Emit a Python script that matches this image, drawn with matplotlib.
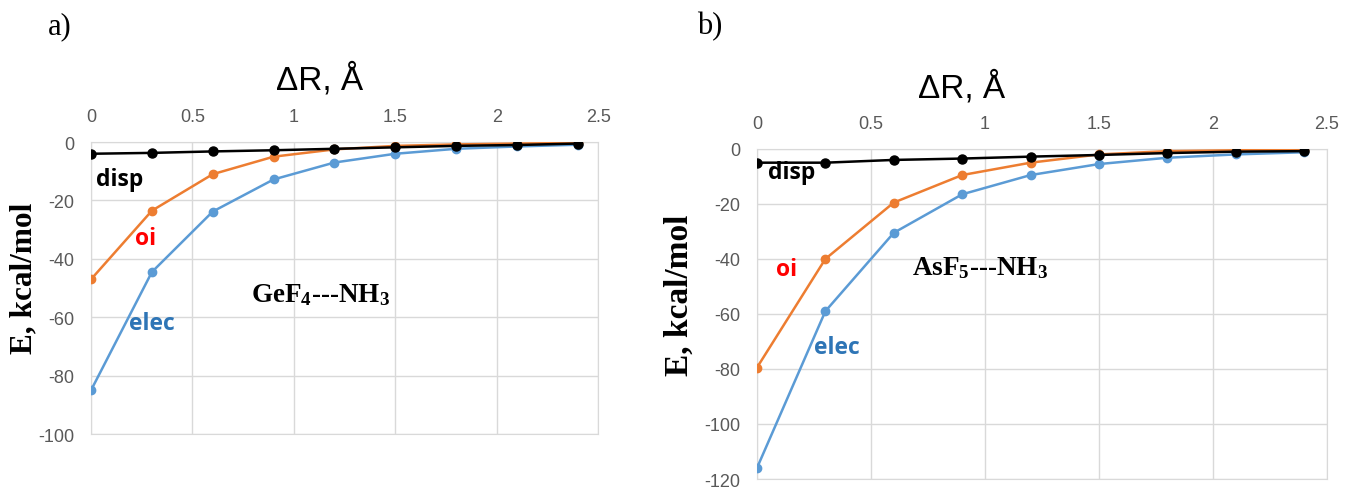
import matplotlib
matplotlib.use('Agg')
import matplotlib.pyplot as plt

plt.rcParams['mathtext.fontset'] = 'custom'
plt.rcParams['mathtext.rm'] = 'Liberation Serif:bold'
plt.rcParams['mathtext.it'] = 'Liberation Serif:bold'
plt.rcParams['mathtext.bf'] = 'Liberation Serif:bold'
plt.rcParams['axes.unicode_minus'] = False

# distance shift (Angstrom)
dr = [0, 0.3, 0.6, 0.9, 1.2, 1.5, 1.8, 2.1, 2.4]

# a) GeF4---NH3
ge_disp = [-4.0, -3.7, -3.2, -2.8, -2.3, -1.8, -1.3, -1.0, -0.5]
ge_oi = [-47.0, -23.5, -11.0, -5.0, -2.5, -1.3, -0.8, -0.5, -0.3]
ge_elec = [-85.0, -44.5, -23.8, -12.8, -7.0, -4.0, -2.3, -1.5, -0.9]

# b) AsF5---NH3
as_disp = [-5.0, -5.0, -4.0, -3.5, -2.8, -2.2, -1.5, -1.0, -0.8]
as_oi = [-79.5, -40.0, -19.5, -9.5, -5.0, -2.0, -0.8, -0.5, -0.3]
as_elec = [-116.0, -59.0, -30.5, -16.5, -9.5, -5.5, -3.2, -2.0, -1.2]

ORANGE = '#ED7D31'
BLUE = '#5B9BD5'
GRID = '#D9D9D9'
TICK = '#595959'


def draw_panel(ax, disp, oi, elec, ymin, ystep):
    ax.plot(dr, elec, color=BLUE, lw=1.8, marker='o', ms=6, zorder=3)
    ax.plot(dr, oi, color=ORANGE, lw=1.8, marker='o', ms=6, zorder=4)
    ax.plot(dr, disp, color='black', lw=1.8, marker='o', ms=6.5, zorder=5)
    ax.set_xlim(0, 2.5)
    ax.set_ylim(ymin, 0)
    ax.set_xticks([0, 0.5, 1, 1.5, 2, 2.5])
    ax.set_xticklabels(['0', '0.5', '1', '1.5', '2', '2.5'])
    ax.set_yticks(list(range(ymin, 1, ystep)))
    ax.xaxis.tick_top()
    ax.tick_params(length=0, labelsize=13, colors=TICK, pad=12)
    ax.grid(True, color=GRID, lw=1)
    ax.set_axisbelow(True)
    for s in ax.spines.values():
        s.set_color(GRID)
    for lab in ax.get_xticklabels() + ax.get_yticklabels():
        lab.set_family('Liberation Sans')


fig = plt.figure(figsize=(13.45, 4.89), dpi=100)
ax1 = fig.add_axes([0.0677, 0.1104, 0.377, 0.597])
ax2 = fig.add_axes([0.5628, 0.0184, 0.4238, 0.675])

draw_panel(ax1, ge_disp, ge_oi, ge_elec, -100, 20)
draw_panel(ax2, as_disp, as_oi, as_elec, -120, 20)

lab_font = dict(family='Open Sans', fontweight='bold', fontsize=16.5)
ax1.text(0.14, -12.5, 'disp', color='black', ha='center', va='center', **lab_font)
ax1.text(0.27, -33, 'oi', color='red', ha='center', va='center', **lab_font)
ax1.text(0.30, -62, 'elec', color='#2E75B6', ha='center', va='center', **lab_font)
ax1.text(1.13, -52, r'GeF$_4$---NH$_3$', ha='center', va='center',
         family='Liberation Serif', fontweight='bold', fontsize=19.5)

ax2.text(0.15, -8.5, 'disp', color='black', ha='center', va='center', **lab_font)
ax2.text(0.13, -43.5, 'oi', color='red', ha='center', va='center', **lab_font)
ax2.text(0.35, -72, 'elec', color='#2E75B6', ha='center', va='center', **lab_font)
ax2.text(0.98, -43, r'AsF$_5$---NH$_3$', ha='center', va='center',
         family='Liberation Serif', fontweight='bold', fontsize=19.5)

# axis titles placed by figure coordinates
fig.text(320 / 1345, 1 - 80 / 489, 'ΔR, Å', ha='center', va='center',
         family='Liberation Sans', fontsize=24)
fig.text(962 / 1345, 1 - 88 / 489, 'ΔR, Å', ha='center', va='center',
         family='Liberation Sans', fontsize=24)
fig.text(24 / 1345, 1 - 278 / 489, 'E, kcal/mol', rotation=90, ha='center', va='center',
         family='Liberation Serif', fontweight='bold', fontsize=22.5)
fig.text(679 / 1345, 1 - 295 / 489, 'E, kcal/mol', rotation=90, ha='center', va='center',
         family='Liberation Serif', fontweight='bold', fontsize=24)
fig.text(60 / 1345, 1 - 27 / 489, 'a)', ha='center', va='center',
         family='Liberation Serif', fontsize=22)
fig.text(710 / 1345, 1 - 27 / 489, 'b)', ha='center', va='center',
         family='Liberation Serif', fontsize=22)

fig.savefig('out.png', dpi=100)
